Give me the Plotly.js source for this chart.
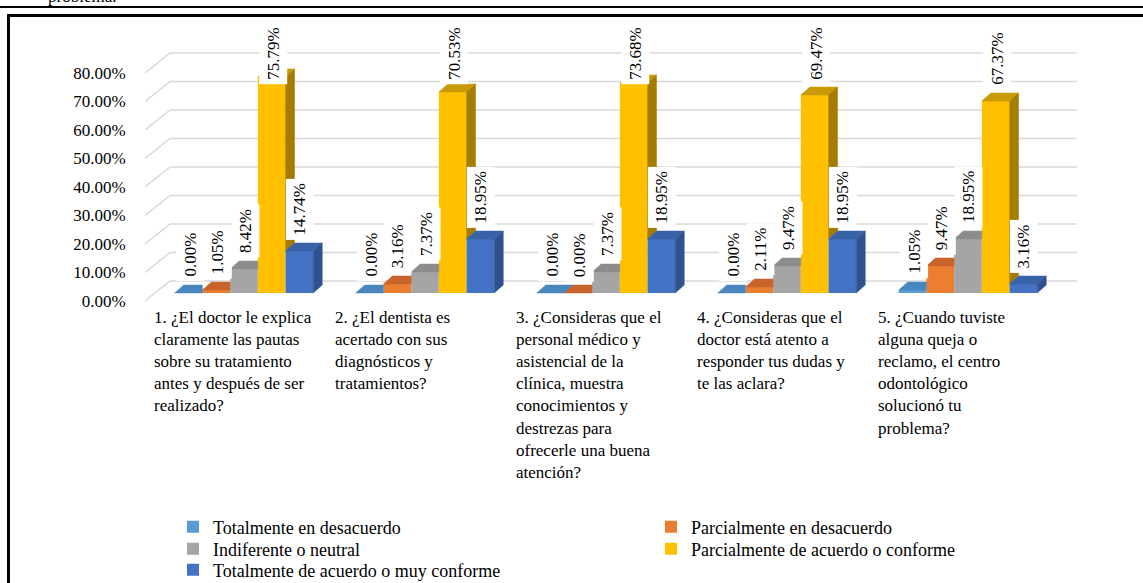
<!DOCTYPE html>
<html><head><meta charset="utf-8">
<script src="https://cdn.plot.ly/plotly-3.0.1.min.js"></script>
<style>
html,body{margin:0;padding:0;background:#fff;overflow:hidden;width:1143px;height:583px;}
#chart{position:absolute;left:0;top:0;width:1143px;height:583px;}
#prev{position:absolute;left:48px;top:-13px;font-family:"Liberation Serif",serif;font-size:17px;color:#000;z-index:5;}
#rule{position:absolute;left:0;top:6px;width:1143px;height:2px;background:#000;z-index:5;}
#frameTop{position:absolute;left:7px;top:14px;width:1136px;height:3px;background:#000;z-index:5;}
#frameLeft{position:absolute;left:7px;top:14px;width:3px;height:569px;background:#000;z-index:5;}
</style></head><body>
<div id="chart"></div>
<div id="prev">problema.</div>
<div id="rule"></div><div id="frameTop"></div><div id="frameLeft"></div>
<script>
// ---------- DATA ----------
const categories = [
  "1. ¿El doctor le explica<br>claramente las pautas<br>sobre su tratamiento<br>antes y después de ser<br>realizado?",
  "2. ¿El dentista es<br>acertado con sus<br>diagnósticos y<br>tratamientos?",
  "3. ¿Consideras que el<br>personal médico y<br>asistencial de la<br>clínica, muestra<br>conocimientos y<br>destrezas para<br>ofrecerle una buena<br>atención?",
  "4. ¿Consideras que el<br>doctor está atento a<br>responder tus dudas y<br>te las aclara?",
  "5. ¿Cuando tuviste<br>alguna queja o<br>reclamo, el centro<br>odontológico<br>solucionó tu<br>problema?"
];
const seriesNames = [
  "Totalmente en desacuerdo",
  "Parcialmente en desacuerdo",
  "Indiferente o neutral",
  "Parcialmente de acuerdo o conforme",
  "Totalmente de acuerdo o muy conforme"
];
const totalmenteDesacuerdo = [0.00, 0.00, 0.00, 0.00, 1.05];
const parcialmenteDesacuerdo = [1.05, 3.16, 0.00, 2.11, 9.47];
const indiferente = [8.42, 7.37, 7.37, 9.47, 18.95];
const parcialmenteAcuerdo = [75.79, 70.53, 73.68, 69.47, 67.37];
const totalmenteAcuerdo = [14.74, 18.95, 18.95, 18.95, 3.16];
const yTickVals = [0, 10, 20, 30, 40, 50, 60, 70, 80];
const yTickText = ["0.00%", "10.00%", "20.00%", "30.00%", "40.00%", "50.00%", "60.00%", "70.00%", "80.00%"];

// ---------- STYLE ----------
const seriesValues = [totalmenteDesacuerdo, parcialmenteDesacuerdo, indiferente, parcialmenteAcuerdo, totalmenteAcuerdo];
const frontColors = ["#5B9BD5", "#ED7D31", "#A5A5A5", "#FFC000", "#4472C4"];
const sideColors  = ["#3F75A8", "#AE5A21", "#7A7A7A", "#A67C00", "#2F528F"];
const topColors   = ["#4A86BE", "#C8642A", "#8C8C8C", "#C99A06", "#3A62A8"];
const FONT = "Liberation Serif, Times New Roman, serif";
const FS = 17;

const W = 1143, H = 583;
const mL = 145, mR = 66, mT = 20, mB = 273;
const plotW = W - mL - mR, plotH = H - mT - mB;
const catPx = 181, pctPx = 2.85;
const xMin = -(244 - mL) / catPx;
const xRange = [xMin, xMin + plotW / catPx];
const yMin = -(mT + plotH - 301) / pctPx;
const yRange = [yMin, yMin + plotH / pctPx];

const barW = 27.7 / catPx;
const BASE = 8 / pctPx;
const DX = 9 / catPx, DY = 8 / pctPx;
const WALL_DX = 25 / catPx, WALL_DY = 20 / pctPx;

// legend placement (text start x, row centre y) in pixels
const legendIds = ['legend', 'legend2', 'legend3', 'legend4', 'legend5'];
const legendTextX = [213, 691, 213, 691, 213];
const legendRowY = [527, 527, 549, 549, 570];

const idx = categories.map((c, i) => i);
const traces = [];
const faces = [];
const annotations = [];

function yPix(v) { return mT + plotH - (v - yRange[0]) * pctPx; }

seriesValues.forEach((vals, k) => {
  const off = (k - 2.5) * barW;
  traces.push({
    type: 'bar', name: seriesNames[k], x: idx, y: vals,
    base: vals.map(() => BASE), offset: off, width: barW,
    marker: { color: frontColors[k], line: { width: 0 } },
    legend: legendIds[k],
    hoverinfo: 'skip', textposition: 'none'
  });
  vals.forEach((v, i) => {
    const xl = i + off, xr = xl + barW;
    const b = BASE, T = BASE + v;
    const next = (k < 4) ? seriesValues[k + 1][i] : null;
    let tx, ty;
    if (next !== null && next > v) {
      tx = [xl, xr, xr, xl + DX, xl];
      ty = [T, T, T + DY, T + DY, T];
    } else {
      tx = [xl, xr, xr + DX, xl + DX, xl];
      ty = [T, T, T + DY, T + DY, T];
    }
    faces.push({ type: 'scatter', mode: 'lines', x: tx, y: ty, fill: 'toself',
      fillcolor: topColors[k], line: { color: topColors[k], width: 0.5 },
      showlegend: false, hoverinfo: 'skip' });
    let lo = null;
    if (next === null) lo = b;
    else if (v > next) lo = b + next;
    if (lo !== null) {
      faces.push({ type: 'scatter', mode: 'lines',
        x: [xr, xr + DX, xr + DX, xr, xr],
        y: [lo, lo + DY, T + DY, T, lo], fill: 'toself',
        fillcolor: sideColors[k], line: { color: sideColors[k], width: 0.5 },
        showlegend: false, hoverinfo: 'skip' });
    }
    const topPx = yPix(T);
    const textTop = topPx - 16 - 54;
    const ann = {
      x: xl + barW / 2 + 1 / catPx, xref: 'x', text: v.toFixed(2) + '%',
      textangle: -90, showarrow: false, bgcolor: '#FFFFFF', borderpad: 4,
      font: { family: FONT, size: FS, color: '#000' }, xanchor: 'center'
    };
    if (textTop < 28) {
      ann.yref = 'paper'; ann.y = (mT + plotH - 23) / plotH; ann.yanchor = 'top';
    } else {
      ann.yref = 'y'; ann.y = T; ann.yanchor = 'bottom'; ann.yshift = 11;
    }
    annotations.push(ann);
  });
});

categories.forEach((c, i) => {
  annotations.push({
    x: i - 0.51, xref: 'x', y: 0, yref: 'paper', yanchor: 'top', xanchor: 'left',
    align: 'left', text: c, showarrow: false, yshift: 4,
    font: { family: FONT, size: FS, color: '#000' }
  });
});

const shapes = [];
yTickVals.forEach(t => {
  shapes.push({ type: 'line', xref: 'x', yref: 'y', layer: 'below',
    x0: xRange[0] + WALL_DX, x1: xRange[1], y0: t + WALL_DY, y1: t + WALL_DY,
    line: { color: '#D9D9D9', width: 1.6 } });
  shapes.push({ type: 'line', xref: 'x', yref: 'y', layer: 'below',
    x0: xRange[0], x1: xRange[0] + WALL_DX, y0: t, y1: t + WALL_DY,
    line: { color: '#D9D9D9', width: 1.6 } });
});

const layout = {
  width: W, height: H,
  margin: { l: mL, r: mR, t: mT, b: mB, pad: 0, autoexpand: false },
  paper_bgcolor: '#FFFFFF', plot_bgcolor: 'rgba(0,0,0,0)',
  barmode: 'overlay', showlegend: true,
  font: { family: FONT, size: FS, color: '#000' },
  xaxis: { range: xRange, showticklabels: false, showgrid: false, zeroline: false,
    showline: false, ticks: '', fixedrange: true, automargin: false },
  yaxis: { range: yRange, tickvals: yTickVals, ticktext: yTickText, showgrid: false,
    zeroline: false, showline: false, ticks: 'outside', ticklen: 15, automargin: false,
    tickcolor: 'rgba(0,0,0,0)', tickfont: { family: FONT, size: FS, color: '#000' },
    fixedrange: true },
  shapes: shapes,
  annotations: annotations
};
legendIds.forEach((id, k) => {
  layout[id] = {
    x: (legendTextX[k] - 40 - mL) / plotW, xanchor: 'left',
    y: (mT + plotH - legendRowY[k]) / plotH, yanchor: 'middle',
    orientation: 'v', bgcolor: 'rgba(0,0,0,0)', borderwidth: 0,
    font: { family: FONT, size: 18, color: '#000' },
    itemclick: false, itemdoubleclick: false
  };
});

Plotly.newPlot('chart', traces.concat(faces), layout, { displayModeBar: false, staticPlot: true });
</script>
</body></html>
